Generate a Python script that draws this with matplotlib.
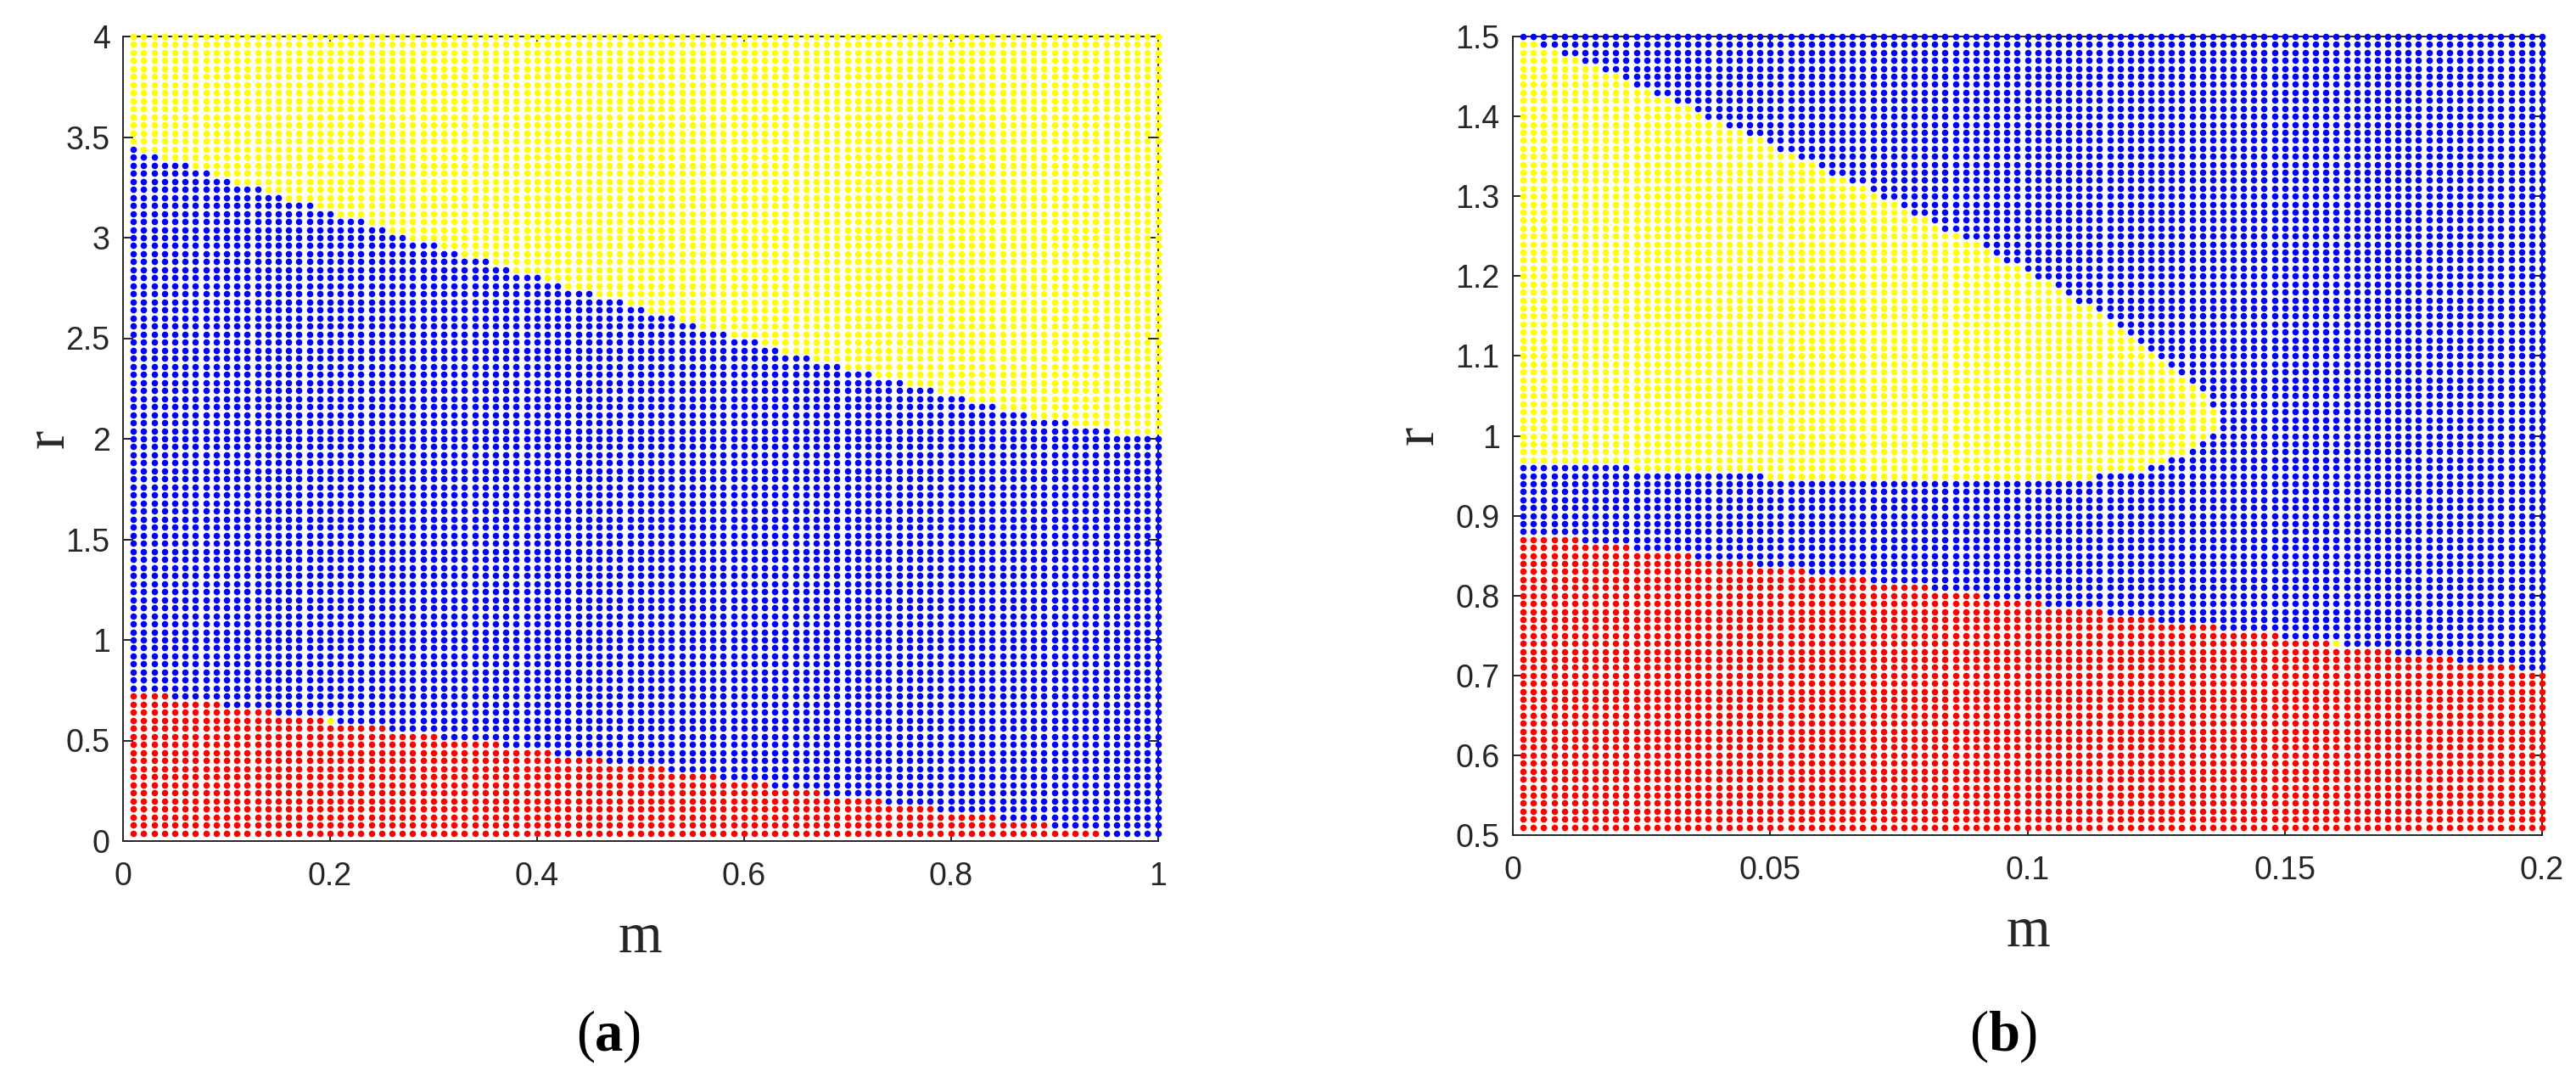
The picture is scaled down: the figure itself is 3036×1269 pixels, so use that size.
#!/usr/bin/env python3
import matplotlib

matplotlib.use("Agg")
import matplotlib.pyplot as plt
import numpy as np

W, H = 3036, 1269
BLUE, YELLOW, RED = "#0000ff", "#ffff00", "#ff0000"
INK = "#262626"

# panel (a): 100 x 100 grid, rows counted from r = 4 downwards
a_m = np.arange(1, 101) * 0.01
a_r = 4 - np.arange(100) * 0.04
a_xticks = [0, 0.2, 0.4, 0.6, 0.8, 1]
a_xlabels = ["0", "0.2", "0.4", "0.6", "0.8", "1"]
a_yticks = [0, 0.5, 1, 1.5, 2, 2.5, 3, 3.5, 4]
a_ylabels = ["0", "0.5", "1", "1.5", "2", "2.5", "3", "3.5", "4"]
# blue columns at the start of rows 14..49, yellow after them
a_blue_first_row = 14
a_blue_run = [
    1, 3, 6, 8, 10, 13, 15, 18, 20, 23, 25, 27, 30, 32, 35, 37, 40, 42,
    45, 48, 50, 53, 55, 58, 61, 63, 66, 69, 72, 75, 78, 81, 84, 87, 91, 95,
]
# red columns at the start of rows 82..99
a_red_first_row = 82
a_red_run = [4, 9, 14, 19, 25, 30, 36, 41, 46, 52, 57, 62, 67, 73, 78, 84, 89, 94]
a_odd_row, a_odd_col = 85, 19

# panel (b): same grid, rows counted from r = 1.5 downwards
b_m = np.arange(1, 101) * 0.002
b_r = 1.5 - np.arange(100) * 0.01
b_xticks = [0, 0.05, 0.1, 0.15, 0.2]
b_xlabels = ["0", "0.05", "0.1", "0.15", "0.2"]
b_yticks = [0.5, 0.6, 0.7, 0.8, 0.9, 1, 1.1, 1.2, 1.3, 1.4, 1.5]
b_ylabels = ["0.5", "0.6", "0.7", "0.8", "0.9", "1", "1.1", "1.2", "1.3", "1.4", "1.5"]
# end of the yellow run in rows 0..55
b_yellow_end = [
    0, 2, 4, 6, 8, 10, 11, 13, 15, 17, 18, 20, 22, 24, 25, 27, 29, 30, 32, 34,
    35, 37, 38, 40, 41, 43, 45, 46, 47, 49, 50, 52, 53, 54, 56, 57, 58, 59, 60,
    61, 62, 63, 64, 65, 66, 67, 67, 68, 68, 68, 67, 66, 65, 63, 61, 56,
]
# start of the yellow run in rows 54 and 55
b_yellow_start = {54: 11, 55: 24}
# red columns at the start of rows 63..79, rows below are all red
b_red_first_row = 63
b_red_run = [6, 11, 17, 23, 28, 34, 40, 45, 51, 57, 62, 68, 74, 79, 85, 91, 97]
b_odd_row, b_odd_col = 76, 79


def draw_panel(box, m, r, grid, xticks, xlabels, yticks, ylabels, xlim, ylim):
    left, right, top, bottom = box
    ax = fig.add_axes(
        [left / W, 1 - bottom / H, (right - left) / W, (bottom - top) / H]
    )
    mm, rr = np.meshgrid(m, r)
    for code, colour in enumerate([BLUE, YELLOW, RED]):
        mask = grid == code
        ax.scatter(
            mm[mask], rr[mask], s=30, c=colour, linewidths=0, clip_on=False, zorder=3
        )
    ax.set_xlim(*xlim)
    ax.set_ylim(*ylim)
    ax.set_xticks(xticks, xlabels)
    ax.set_yticks(yticks, ylabels)
    ax.tick_params(
        direction="in", length=8.5, width=1.4, color=INK, labelcolor=INK,
        top=True, right=True, labelsize=27,
    )
    ax.tick_params(axis="x", pad=17)
    ax.tick_params(axis="y", pad=11)
    for spine in ax.spines.values():
        spine.set_linewidth(1.4)
        spine.set_color(INK)
    return ax


def caption(x_paren, letter):
    fig.text(x_paren / W, 1 - 1238 / H, "(", family="Liberation Serif", fontsize=48)
    fig.text((x_paren + 22) / W, 1 - 1238 / H, letter, family="Liberation Serif",
             fontsize=48, weight="bold")
    shift = 33 if letter == "a" else 37
    fig.text((x_paren + 22 + shift) / W, 1 - 1238 / H, ")",
             family="Liberation Serif", fontsize=48)


plt.rcParams["font.family"] = ["Liberation Sans", "DejaVu Sans"]
fig = plt.figure(figsize=(W / 100, H / 100), dpi=100)

# 0 blue, 1 yellow, 2 red
grid_a = np.zeros((100, 100), dtype=int)
grid_a[:a_blue_first_row, :] = 1
for i, n in enumerate(a_blue_run):
    grid_a[a_blue_first_row + i, n:] = 1
for i, n in enumerate(a_red_run):
    grid_a[a_red_first_row + i, :n] = 2
grid_a[a_odd_row, a_odd_col] = 1

grid_b = np.zeros((100, 100), dtype=int)
for i, n in enumerate(b_yellow_end):
    grid_b[i, b_yellow_start.get(i, 0):n] = 1
for i, n in enumerate(b_red_run):
    grid_b[b_red_first_row + i, :n] = 2
grid_b[b_red_first_row + len(b_red_run):, :] = 2
grid_b[b_odd_row, b_odd_col] = 1

draw_panel((145, 1364.5, 43, 991), a_m, a_r, grid_a, a_xticks, a_xlabels,
           a_yticks, a_ylabels, (0, 1), (0, 4))
draw_panel((1783, 2996, 43, 984), b_m, b_r, grid_b, b_xticks, b_xlabels,
           b_yticks, b_ylabels, (0, 0.2), (0.5, 1.5))

for x, y in [(755, 1122), (2390, 1115)]:
    fig.text(x / W, 1 - y / H, "m", family="Liberation Serif", fontsize=48,
             color=INK, ha="center", va="baseline")
for x, y in [(58, 517), (1672, 513)]:
    fig.text(x / W, 1 - y / H, "r", family="Liberation Serif", fontsize=48,
             color=INK, ha="center", va="center", rotation=90)

caption(679, "a")
caption(2321, "b")

fig.savefig("out.png", dpi=100)
